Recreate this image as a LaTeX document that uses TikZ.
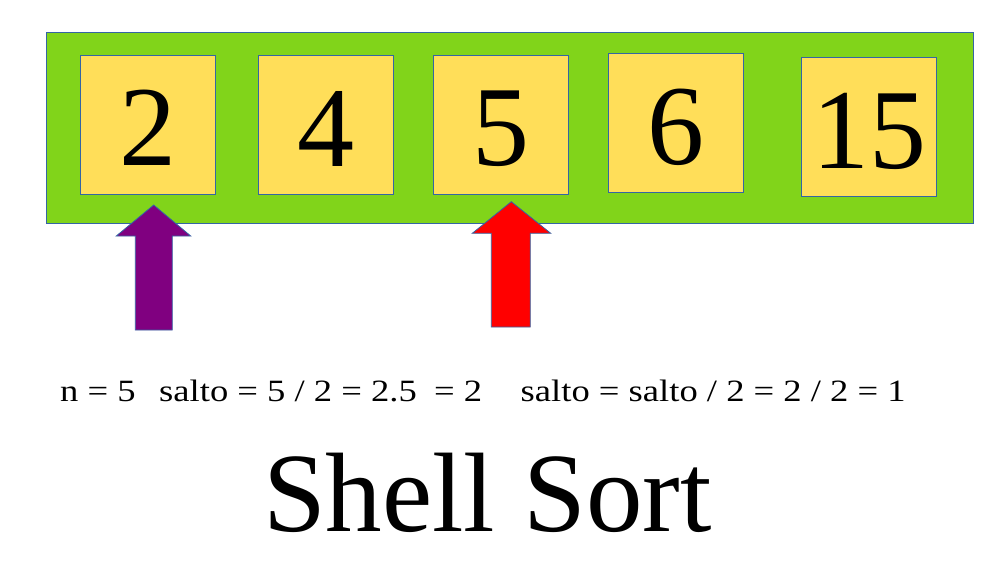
\documentclass[tikz,border=0pt]{standalone}
\usepackage{fontspec}
\setmainfont{Liberation Serif}
\newfontfamily\widefont{Liberation Serif}[FakeStretch=1.18]
\definecolor{limegreen}{HTML}{81D41A}
\definecolor{cellgold}{HTML}{FFDE59}
\definecolor{edgeblue}{HTML}{3465A4}
\definecolor{arrowpurple}{HTML}{800080}
\definecolor{arrowred}{HTML}{FF0000}
\begin{document}
\begin{tikzpicture}[x=1pt,y=-1pt,
  frame/.style={draw=edgeblue, line width=0.8pt},
  tray/.style={frame, fill=limegreen, minimum width=927pt, minimum height=191pt, inner sep=0pt},
  cell/.style={frame, fill=cellgold, minimum width=135pt, minimum height=139pt, inner sep=0pt,
    text height=82pt, text depth=0pt, font=\fontsize{114}{114}\selectfont},
  blockarrow/.style={frame, line join=miter},
  calc/.style={anchor=base west, inner sep=0pt, font=\widefont\fontsize{31}{31}\selectfont},
  title/.style={anchor=base, inner sep=0pt, font=\fontsize{113}{113}\selectfont}]
\path[use as bounding box] (0,0) rectangle (1008,564);
% green tray
\node[tray] (tray) at (509.85,127.8) {};
% cells
\node[cell] (c1) at (147.9,124.8) {2};
\node[cell] (c2) at (325.9,125.3) {4};
\node[cell] (c3) at (500.9,124.8) {5};
\node[cell] (c4) at (675.8,123.3) {6};
\node[cell] (c5) at (869.0,127.3) {15};
% purple arrow
\coordinate (p) at (153.7,205);
\filldraw[blockarrow, fill=arrowpurple] (p) -- (190.7,236) -- (172.3,236) -- (172.3,330)
  -- (135.3,330) -- (135.3,236) -- (116.3,236) -- cycle;
% red arrow
\coordinate (r) at (511.3,201.7);
\filldraw[blockarrow, fill=arrowred] (r) -- (550.7,233.3) -- (530.3,233.3) -- (530.3,327)
  -- (491.3,327) -- (491.3,233.3) -- (472.3,233.3) -- cycle;
% calculation line
\node[calc] (t1) at (60,401.7) {n = 5};
\node[calc] (t2) at (159,401.7) {salto = 5 / 2 = 2.5};
\node[calc] (t3) at (434,401.7) {= 2};
\node[calc] (t4) at (520.5,401.7) {salto = salto / 2 = 2 / 2 = 1};
% title
\node[title] (ttl) at (487.5,531.7) {Shell Sort};
\end{tikzpicture}
\end{document}
